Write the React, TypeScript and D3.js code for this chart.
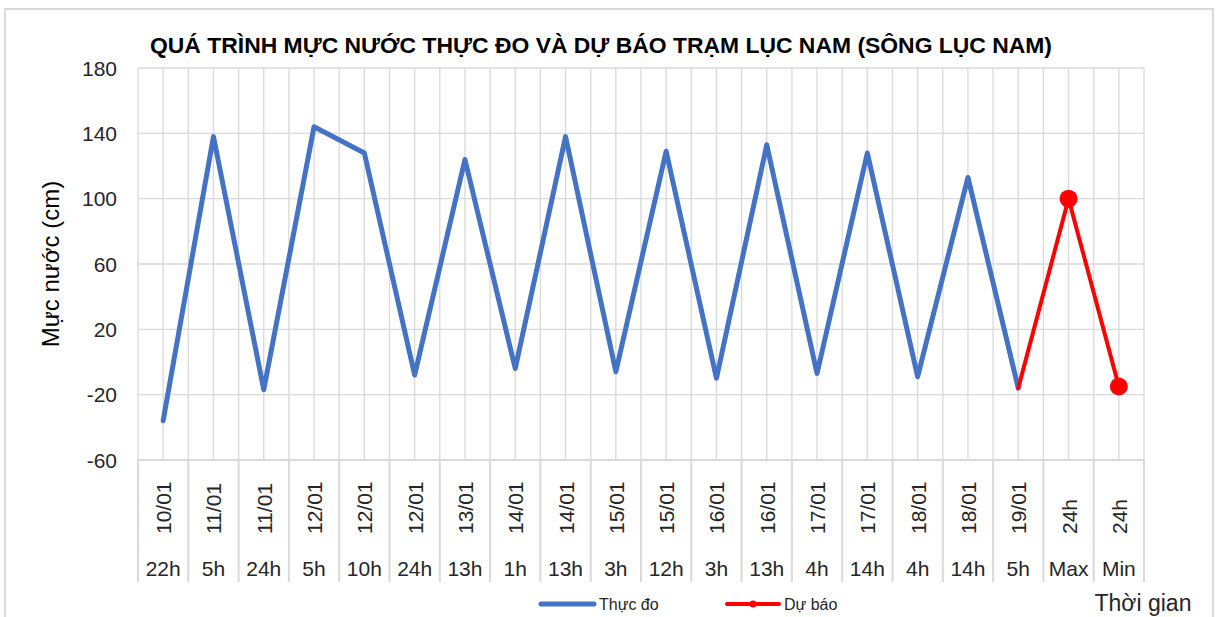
import React, { useEffect, useRef } from 'react';
import * as d3 from 'd3';

const dates = ['10/01', '11/01', '11/01', '12/01', '12/01', '12/01', '13/01', '14/01', '14/01', '15/01', '15/01', '16/01', '16/01', '17/01', '17/01', '18/01', '18/01', '19/01', '24h', '24h'];
const hours = ['22h', '5h', '24h', '5h', '10h', '24h', '13h', '1h', '13h', '3h', '12h', '3h', '13h', '4h', '14h', '4h', '14h', '5h', 'Max', 'Min'];
const observed: (number | null)[] = [-36, 138, -17, 144, 128, -8, 124, -4, 138, -6, 129, -10, 133, -7, 128, -9, 113, -16, null, null];
const forecast: (number | null)[] = [null, null, null, null, null, null, null, null, null, null, null, null, null, null, null, null, null, -16, 100, -15];
const yTicks = [-60, -20, 20, 60, 100, 140, 180];

const title = 'QUÁ TRÌNH MỰC NƯỚC THỰC ĐO VÀ DỰ BÁO TRẠM LỤC NAM (SÔNG LỤC NAM)';
const font = '"Liberation Sans", Arial, sans-serif';

const App = () => {
  const ref = useRef<SVGSVGElement>(null);

  useEffect(() => {
    const svg = d3.select(ref.current);
    svg.selectAll('*').remove();

    const left = 138, right = 1144, top = 68, bottom = 460;
    const grid = '#d9d9d9';

    // outer chart border
    svg.append('rect')
      .attr('x', 5).attr('y', 9).attr('width', 1208).attr('height', 620)
      .attr('fill', 'white').attr('stroke', grid).attr('stroke-width', 2);

    const x = d3.scaleBand<number>()
      .domain(d3.range(dates.length))
      .range([left, right]);
    const y = d3.scaleLinear().domain([-60, 180]).range([bottom, top]);
    const cx = (i: number) => (x(i) as number) + x.bandwidth() / 2;

    // vertical gridlines (centers and boundaries)
    const vLines: number[] = [];
    dates.forEach((_, i) => { vLines.push(x(i) as number); vLines.push(cx(i)); });
    vLines.push(right);
    svg.append('g').selectAll('line').data(vLines).enter().append('line')
      .attr('x1', d => d).attr('x2', d => d).attr('y1', top).attr('y2', bottom)
      .attr('stroke', grid).attr('stroke-width', 1.3);

    // horizontal gridlines
    svg.append('g').selectAll('line').data(yTicks).enter().append('line')
      .attr('x1', left).attr('x2', right).attr('y1', d => y(d)).attr('y2', d => y(d))
      .attr('stroke', grid).attr('stroke-width', 1.3);

    // axis line + category separators
    svg.append('line').attr('x1', left).attr('x2', right).attr('y1', bottom).attr('y2', bottom)
      .attr('stroke', grid).attr('stroke-width', 2);
    const seps = dates.map((_, i) => x(i) as number).concat([right]);
    svg.append('g').selectAll('line').data(seps).enter().append('line')
      .attr('x1', d => d).attr('x2', d => d).attr('y1', bottom).attr('y2', 582)
      .attr('stroke', grid).attr('stroke-width', 2);

    // y tick labels
    svg.append('g').selectAll('text').data(yTicks).enter().append('text')
      .attr('x', 117).attr('y', d => y(d)).attr('dy', '0.36em')
      .attr('text-anchor', 'end').attr('font-family', font).attr('font-size', 21)
      .attr('fill', '#262626').text(d => d);

    // category labels
    svg.append('g').selectAll('text').data(dates).enter().append('text')
      .attr('transform', (_, i) => `translate(${cx(i) + 8},${534}) rotate(-90)`)
      .attr('font-family', font).attr('font-size', 21).attr('fill', '#262626')
      .text(d => d);
    svg.append('g').selectAll('text').data(hours).enter().append('text')
      .attr('x', (_, i) => cx(i)).attr('y', 576)
      .attr('text-anchor', 'middle').attr('font-family', font).attr('font-size', 21)
      .attr('fill', '#262626').text(d => d);

    // lines
    const line = d3.line<number | null>()
      .defined(d => d !== null)
      .x((_, i) => cx(i))
      .y(d => y(d as number));

    svg.append('path').datum(observed).attr('d', line)
      .attr('fill', 'none').attr('stroke', '#4472c4').attr('stroke-width', 5)
      .attr('stroke-linejoin', 'round').attr('stroke-linecap', 'round');
    svg.append('path').datum(forecast).attr('d', line)
      .attr('fill', 'none').attr('stroke', '#ff0000').attr('stroke-width', 4)
      .attr('stroke-linejoin', 'round').attr('stroke-linecap', 'round');
    svg.append('g').selectAll('circle')
      .data(forecast.map((v, i) => ({ v, i })).filter(d => d.v !== null && d.i >= 18))
      .enter().append('circle')
      .attr('cx', d => cx(d.i)).attr('cy', d => y(d.v as number)).attr('r', 9)
      .attr('fill', '#ff0000');

    // title
    svg.append('text')
      .attr('x', 601).attr('y', 53).attr('text-anchor', 'middle')
      .attr('font-family', font).attr('font-weight', 'bold').attr('font-size', 22)
      .attr('textLength', 902).attr('lengthAdjust', 'spacingAndGlyphs')
      .attr('fill', '#000').text(title);

    // axis titles
    svg.append('text')
      .attr('transform', `translate(59,264) rotate(-90)`)
      .attr('text-anchor', 'middle').attr('font-family', font).attr('font-size', 24)
      .attr('fill', '#000').text('Mực nước (cm)');
    svg.append('text')
      .attr('x', 1143).attr('y', 611).attr('text-anchor', 'middle')
      .attr('font-family', font).attr('font-size', 23).attr('fill', '#262626')
      .text('Thời gian');

    // legend
    const lg = svg.append('g').attr('font-family', font).attr('font-size', 16).attr('fill', '#262626');
    lg.append('line').attr('x1', 541).attr('x2', 594).attr('y1', 604).attr('y2', 604)
      .attr('stroke', '#4472c4').attr('stroke-width', 5).attr('stroke-linecap', 'round');
    lg.append('text').attr('x', 599).attr('y', 610).text('Thực đo');
    lg.append('line').attr('x1', 727).attr('x2', 779).attr('y1', 604).attr('y2', 604)
      .attr('stroke', '#ff0000').attr('stroke-width', 4).attr('stroke-linecap', 'round');
    lg.append('circle').attr('cx', 753).attr('cy', 604).attr('r', 3.5).attr('fill', '#ff0000');
    lg.append('text').attr('x', 784).attr('y', 610).text('Dự báo');
  }, []);

  return (
    <svg ref={ref} width={1217} height={617}
      style={{ position: 'absolute', left: 0, top: 0, background: 'white' }} />
  );
};

export default App;
